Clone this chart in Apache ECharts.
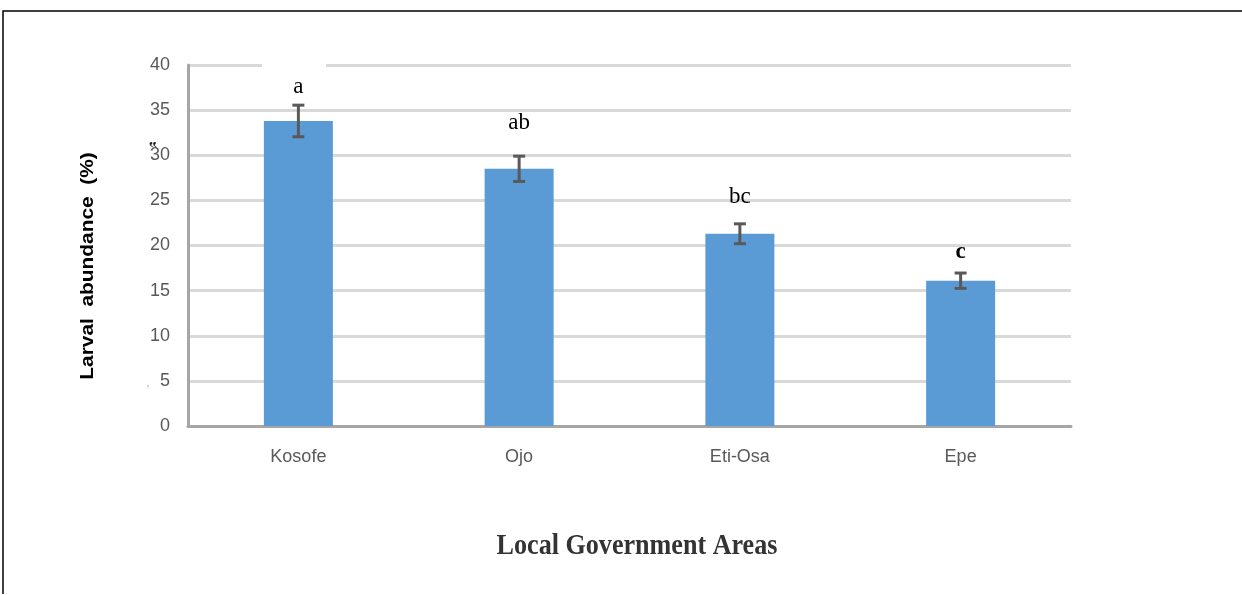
<!DOCTYPE html>
<html>
<head>
<meta charset="utf-8">
<script src="https://cdn.jsdelivr.net/npm/echarts@6/dist/echarts.min.js"></script>
<style>
  html, body { margin: 0; padding: 0; background: #fff; }
  #chart { width: 1242px; height: 595px; }
</style>
</head>
<body>
<div id="chart"></div>
<script>
// Larval abundance by Local Government Area (mean ± error)
const categories = ['Kosofe', 'Ojo', 'Eti-Osa', 'Epe'];
const abundance = [33.8, 28.5, 21.3, 16.1];
const errors = [1.75, 1.4, 1.1, 0.85];
const letters = ['a', 'ab', 'bc', 'c'];
const letterBold = [false, false, false, true];
const yTicks = [0, 5, 10, 15, 20, 25, 30, 35, 40];

// pixel gap between the top of each error bar and its letter
const letterGap = [18, 33, 27, 21];

const chart = echarts.init(document.getElementById('chart'), null, { renderer: 'canvas' });

const tickFont = '"Liberation Sans Narrow", "Liberation Sans", Arial, sans-serif';
const serif = '"Liberation Serif", "Times New Roman", serif';

chart.setOption({
  animation: false,
  backgroundColor: '#ffffff',
  grid: { left: 188, right: 171, top: 65, bottom: 169 },
  xAxis: {
    type: 'category',
    data: categories,
    axisLine: { lineStyle: { color: '#a6a6a6', width: 3 } },
    axisTick: { show: false },
    axisLabel: { color: '#595959', fontFamily: tickFont, fontSize: 18, margin: 22 }
  },
  yAxis: {
    type: 'value',
    min: yTicks[0],
    max: yTicks[yTicks.length - 1],
    interval: 5,
    axisLine: { show: true, lineStyle: { color: '#a6a6a6', width: 3 } },
    axisTick: { show: false },
    axisLabel: { color: '#595959', fontFamily: tickFont, fontSize: 18, margin: 18 },
    splitLine: { lineStyle: { color: '#d9d9d9', width: 3 } }
  },
  graphic: [
    // outer frame
    { type: 'polyline', shape: { points: [[3, 594], [3, 11], [1242, 11]] },
      style: { stroke: '#000', lineWidth: 1.5, fill: null }, z: 100 },
    // clear band behind the top letter where it meets the 40 gridline
    { type: 'rect', shape: { x: 262, y: 61, width: 64, height: 8 },
      style: { fill: '#ffffff' }, z: 1 },
    // y axis title
    { type: 'text', x: 88, y: 266, rotation: Math.PI / 2, scaleX: 1.16,
      style: { text: 'Larval  abundance  (%)', font: 'bold 18px "Liberation Sans", Arial, sans-serif',
               fill: '#000', align: 'center', verticalAlign: 'middle' } },
    // x axis title
    { type: 'text', x: 637, y: 547, scaleX: 0.9,
      style: { text: 'Local Government Areas', font: 'bold 29px ' + serif,
               fill: '#333', align: 'center', verticalAlign: 'middle' } },
    // stray marks near the axis
    { type: 'text', x: 153, y: 149,
      style: { text: '\u201F', font: 'bold 16px ' + serif, fill: '#222', align: 'center', verticalAlign: 'middle' } },
    { type: 'text', x: 148, y: 383,
      style: { text: ',', font: '10px ' + serif, fill: '#999', align: 'center', verticalAlign: 'middle' } }
  ],
  series: [
    {
      type: 'bar',
      data: abundance,
      barWidth: 69,
      itemStyle: { color: '#5b9bd5' },
      z: 2
    },
    {
      // error bars with caps plus the significance letters
      type: 'custom',
      data: abundance.map((v, i) => [i, v, errors[i]]),
      renderItem: function (params, api) {
        const i = api.value(0);
        const v = api.value(1);
        const e = api.value(2);
        const hi = api.coord([i, v + e]);
        const lo = api.coord([i, v - e]);
        const x = hi[0];
        const cap = 6;
        const st = { stroke: '#595959', lineWidth: 3 };
        return {
          type: 'group',
          children: [
            { type: 'line', shape: { x1: x, y1: hi[1], x2: x, y2: lo[1] }, style: st },
            { type: 'line', shape: { x1: x - cap, y1: hi[1], x2: x + cap, y2: hi[1] }, style: st },
            { type: 'line', shape: { x1: x - cap, y1: lo[1], x2: x + cap, y2: lo[1] }, style: st },
            { type: 'text', x: x, y: hi[1] - letterGap[i],
              style: { text: letters[i],
                       font: (letterBold[i] ? 'bold ' : '') + '23px ' + serif,
                       fill: '#000', align: 'center', verticalAlign: 'middle' } }
          ]
        };
      },
      z: 5
    }
  ]
});
</script>
</body>
</html>
